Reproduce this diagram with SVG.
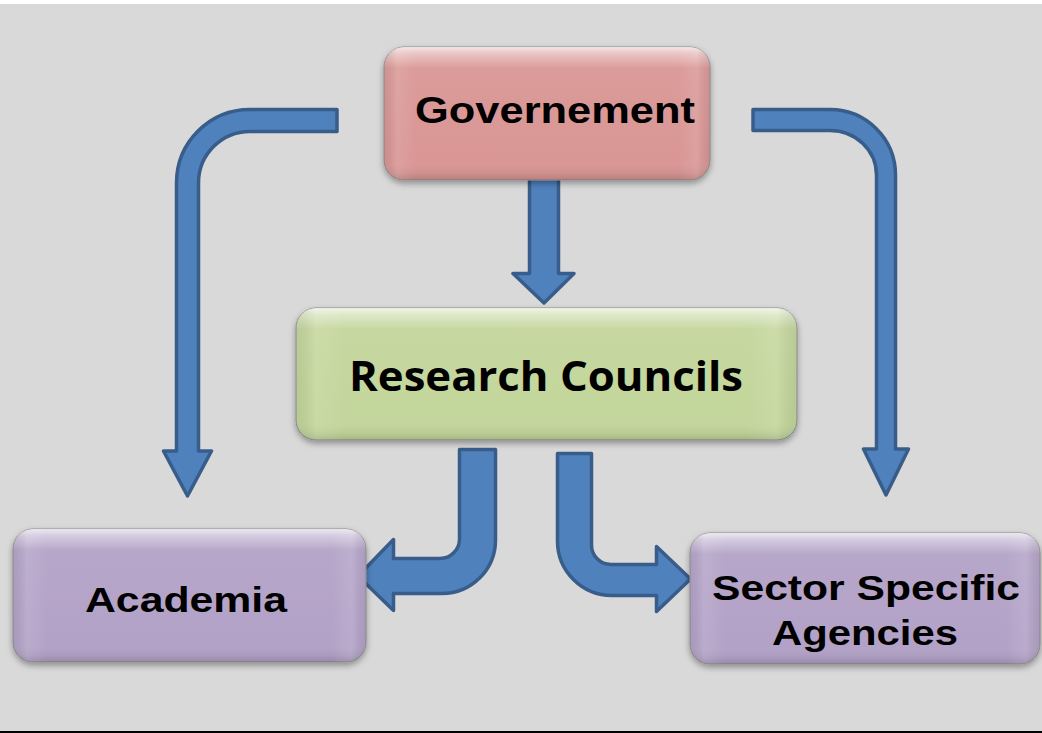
<svg xmlns="http://www.w3.org/2000/svg" width="1042" height="733" viewBox="0 0 1042 733">
  <style>
    .arrow { fill: #4f81bd; stroke: #385d8a; stroke-width: 3.5; stroke-linejoin: round; }
    .box { stroke: #8c8c8c; stroke-width: 1; }
    .gloss { fill: url(#glossV); }
    .side { fill: url(#glossH); }
    .lbl { font-family: "Liberation Sans", Arial, sans-serif; font-weight: bold; fill: #000; }
    .lbl2 { font-family: "Open Sans", Lato, sans-serif; font-weight: bold; fill: #000; }
  </style>
  <defs>
    <linearGradient id="glossV" x1="0" y1="0" x2="0" y2="1">
      <stop offset="0" stop-color="#ffffff" stop-opacity="0.75"/>
      <stop offset="0.05" stop-color="#ffffff" stop-opacity="0.45"/>
      <stop offset="0.16" stop-color="#ffffff" stop-opacity="0.05"/>
      <stop offset="0.85" stop-color="#ffffff" stop-opacity="0"/>
      <stop offset="0.95" stop-color="#000000" stop-opacity="0.05"/>
      <stop offset="1" stop-color="#000000" stop-opacity="0.15"/>
    </linearGradient>
    <linearGradient id="glossH" x1="0" y1="0" x2="1" y2="0">
      <stop offset="0" stop-color="#000000" stop-opacity="0.06"/>
      <stop offset="0.04" stop-color="#ffffff" stop-opacity="0.1"/>
      <stop offset="0.1" stop-color="#ffffff" stop-opacity="0"/>
      <stop offset="0.9" stop-color="#ffffff" stop-opacity="0"/>
      <stop offset="0.96" stop-color="#ffffff" stop-opacity="0.1"/>
      <stop offset="1" stop-color="#000000" stop-opacity="0.06"/>
    </linearGradient>
    <filter id="shadow" x="-10%" y="-10%" width="120%" height="130%">
      <feDropShadow dx="0" dy="3" stdDeviation="3" flood-color="#000000" flood-opacity="0.35"/>
    </filter>
  </defs>

  <rect x="0" y="0" width="1042" height="733" fill="#ffffff"/>
  <rect x="0" y="4" width="1042" height="727" fill="#d9d9d9"/>
  <rect x="0" y="731" width="1042" height="2" fill="#000000"/>

  <g id="connectors">
    <path class="arrow" d="M 337,109.5 L 250,109.5 A 73.5,73.5 0 0 0 176.5,183 L 176.5,451 L 163.5,451 L 187.5,496 L 211.5,451 L 198.5,451 L 198.5,183 A 51.5,51.5 0 0 1 250,131.5 L 337,131.5 Z"/>
    <path class="arrow" d="M 753,109.5 L 830,109.5 A 65.5,65.5 0 0 1 895.5,175 L 895.5,449 L 908.5,449 L 886,495 L 863.5,449 L 876.5,449 L 876.5,175 A 46.5,44.5 0 0 0 830,130.5 L 753,130.5 Z"/>
    <path class="arrow" d="M 529.5,177.5 L 558.5,177.5 L 558.5,273.5 L 574,273.5 L 544,303 L 513,273.5 L 529.5,273.5 Z"/>
    <path class="arrow" d="M 459.5,449.5 L 495.5,449.5 L 495.5,540 A 53.5,53.5 0 0 1 442,593.5 L 393.5,593.5 L 393.5,610.5 L 358,576 L 393.5,539.5 L 393.5,558.5 L 440,558.5 A 19.5,19.5 0 0 0 459.5,539 Z"/>
    <path class="arrow" d="M 557.5,453.5 L 591.5,453.5 L 591.5,545 A 19.5,19.5 0 0 0 611,564.5 L 656.5,564.5 L 656.5,546.5 L 690.5,579 L 656.5,611.5 L 656.5,595.5 L 612,595.5 A 54.5,54.5 0 0 1 557.5,541 Z"/>
  </g>

  <g id="governement">
    <rect class="box" x="384" y="47" width="326" height="133" rx="20" fill="#d99694" filter="url(#shadow)"/>
    <rect class="gloss" x="384" y="47" width="326" height="133" rx="20"/>
    <rect class="side" x="384" y="47" width="326" height="133" rx="20"/>
    <text class="lbl" x="415" y="123" font-size="36" textLength="280" lengthAdjust="spacingAndGlyphs">Governement</text>
  </g>

  <g id="research-councils">
    <rect class="box" x="296" y="308" width="501" height="132" rx="20" fill="#c3d69b" filter="url(#shadow)"/>
    <rect class="gloss" x="296" y="308" width="501" height="132" rx="20"/>
    <rect class="side" x="296" y="308" width="501" height="132" rx="20"/>
    <text class="lbl2" x="349" y="391" font-size="41" textLength="394" lengthAdjust="spacingAndGlyphs">Research Councils</text>
  </g>

  <g id="academia">
    <rect class="box" x="13" y="529" width="353" height="133" rx="20" fill="#b3a2c7" filter="url(#shadow)"/>
    <rect class="gloss" x="13" y="529" width="353" height="133" rx="20"/>
    <rect class="side" x="13" y="529" width="353" height="133" rx="20"/>
    <text class="lbl" x="85" y="612" font-size="35" textLength="202" lengthAdjust="spacingAndGlyphs">Academia</text>
  </g>

  <g id="sector-specific-agencies">
    <rect class="box" x="690" y="533" width="350" height="131" rx="20" fill="#b3a2c7" filter="url(#shadow)"/>
    <rect class="gloss" x="690" y="533" width="350" height="131" rx="20"/>
    <rect class="side" x="690" y="533" width="350" height="131" rx="20"/>
    <text class="lbl" x="712" y="600" font-size="35" textLength="308" lengthAdjust="spacingAndGlyphs">Sector Specific</text>
    <text class="lbl" x="772" y="645" font-size="35" textLength="186" lengthAdjust="spacingAndGlyphs">Agencies</text>
  </g>
</svg>
